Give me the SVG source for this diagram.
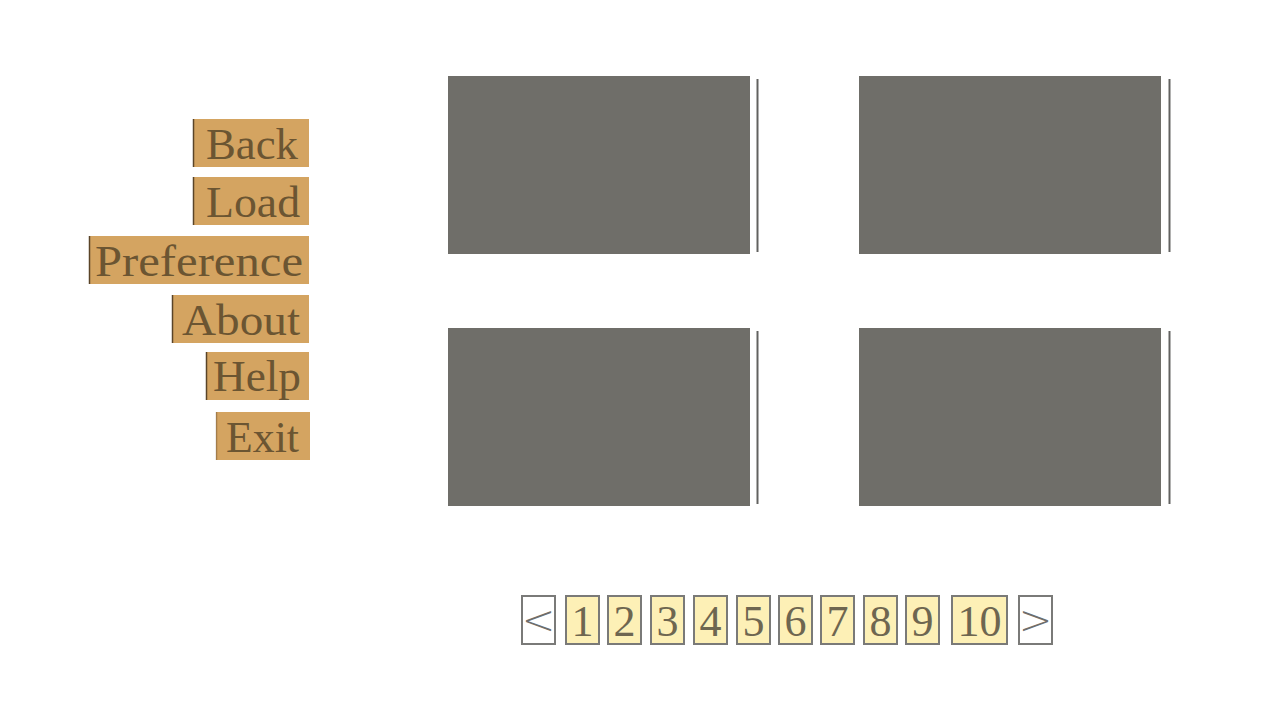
<svg xmlns="http://www.w3.org/2000/svg" width="1280" height="720" viewBox="0 0 1280 720">
<style>
.mb{fill:#d4a461;}
.me{stroke:#5a4428;stroke-width:1.5;}
.mt{font-family:"Liberation Serif","DejaVu Serif",serif;font-size:44px;fill:#6b5532;text-anchor:end;}
.slot{fill:#6f6e69;}
.sl{stroke:#626260;stroke-width:2;}
.pg{fill:#fdf0b6;stroke:#7a7a78;stroke-width:2;}
.pn{fill:#ffffff;stroke:#7a7a78;stroke-width:2;}
.pt{font-family:"Liberation Serif","DejaVu Serif",serif;font-size:44px;fill:#6e6650;text-anchor:middle;}
.at{font-family:"DejaVu Sans",sans-serif;font-size:40px;fill:#6e6e6c;text-anchor:middle;font-weight:200;}
</style>
<rect width="1280" height="720" fill="#ffffff"/>
<g id="menu-back"><rect class="mb" x="193" y="119" width="116" height="48"/><line class="me" x1="193.5" y1="119" x2="193.5" y2="167"/><text class="mt" x="298" y="159" textLength="92" lengthAdjust="spacingAndGlyphs">Back</text></g>
<g id="menu-load"><rect class="mb" x="193" y="177" width="116" height="48"/><line class="me" x1="193.5" y1="177" x2="193.5" y2="225"/><text class="mt" x="300" y="217" textLength="94" lengthAdjust="spacingAndGlyphs">Load</text></g>
<g id="menu-preference"><rect class="mb" x="89" y="236" width="220" height="48"/><line class="me" x1="89.5" y1="236" x2="89.5" y2="284"/><text class="mt" x="303" y="276" textLength="208" lengthAdjust="spacingAndGlyphs">Preference</text></g>
<g id="menu-about"><rect class="mb" x="172" y="295" width="137" height="48"/><line class="me" x1="172.5" y1="295" x2="172.5" y2="343"/><text class="mt" x="300" y="335" textLength="118" lengthAdjust="spacingAndGlyphs">About</text></g>
<g id="menu-help"><rect class="mb" x="206" y="352" width="103" height="48"/><line class="me" x1="206.5" y1="352" x2="206.5" y2="400"/><text class="mt" x="301" y="391" textLength="88" lengthAdjust="spacingAndGlyphs">Help</text></g>
<g id="menu-exit"><rect class="mb" x="216" y="412" width="94" height="48"/><line class="me" x1="216.5" y1="412" x2="216.5" y2="460" stroke-opacity="0.4"/><text class="mt" x="299" y="452" textLength="73" lengthAdjust="spacingAndGlyphs">Exit</text></g>

<g id="slot-1"><rect class="slot" x="448" y="76" width="302" height="178"/></g>
<g id="slot-2"><rect class="slot" x="859" y="76" width="302" height="178"/></g>
<g id="slot-3"><rect class="slot" x="448" y="328" width="302" height="178"/></g>
<g id="slot-4"><rect class="slot" x="859" y="328" width="302" height="178"/></g>
<g id="scrollbars">
<line class="sl" x1="757.5" y1="79" x2="757.5" y2="252"/>
<line class="sl" x1="1169.5" y1="79" x2="1169.5" y2="252"/>
<line class="sl" x1="757.5" y1="331" x2="757.5" y2="504"/>
<line class="sl" x1="1169.5" y1="331" x2="1169.5" y2="504"/>
</g>

<g id="page-prev"><rect class="pn" x="522" y="596" width="33" height="48"/><text class="at" x="538.5" y="634">&lt;</text></g>
<g id="page-1"><rect class="pg" x="566" y="596" width="33" height="48"/><text class="pt" x="582.5" y="636">1</text></g>
<g id="page-2"><rect class="pg" x="608" y="596" width="33" height="48"/><text class="pt" x="624.5" y="636">2</text></g>
<g id="page-3"><rect class="pg" x="651" y="596" width="33" height="48"/><text class="pt" x="667.5" y="636">3</text></g>
<g id="page-4"><rect class="pg" x="694" y="596" width="33" height="48"/><text class="pt" x="710.5" y="636">4</text></g>
<g id="page-5"><rect class="pg" x="737" y="596" width="33" height="48"/><text class="pt" x="753.5" y="636">5</text></g>
<g id="page-6"><rect class="pg" x="779" y="596" width="33" height="48"/><text class="pt" x="795.5" y="636">6</text></g>
<g id="page-7"><rect class="pg" x="821" y="596" width="33" height="48"/><text class="pt" x="837.5" y="636">7</text></g>
<g id="page-8"><rect class="pg" x="864" y="596" width="33" height="48"/><text class="pt" x="880.5" y="636">8</text></g>
<g id="page-9"><rect class="pg" x="906" y="596" width="33" height="48"/><text class="pt" x="922.5" y="636">9</text></g>
<g id="page-10"><rect class="pg" x="952" y="596" width="55" height="48"/><text class="pt" x="979.5" y="636">10</text></g>
<g id="page-next"><rect class="pn" x="1019" y="596" width="33" height="48"/><text class="at" x="1035.5" y="634">&gt;</text></g>
</svg>
